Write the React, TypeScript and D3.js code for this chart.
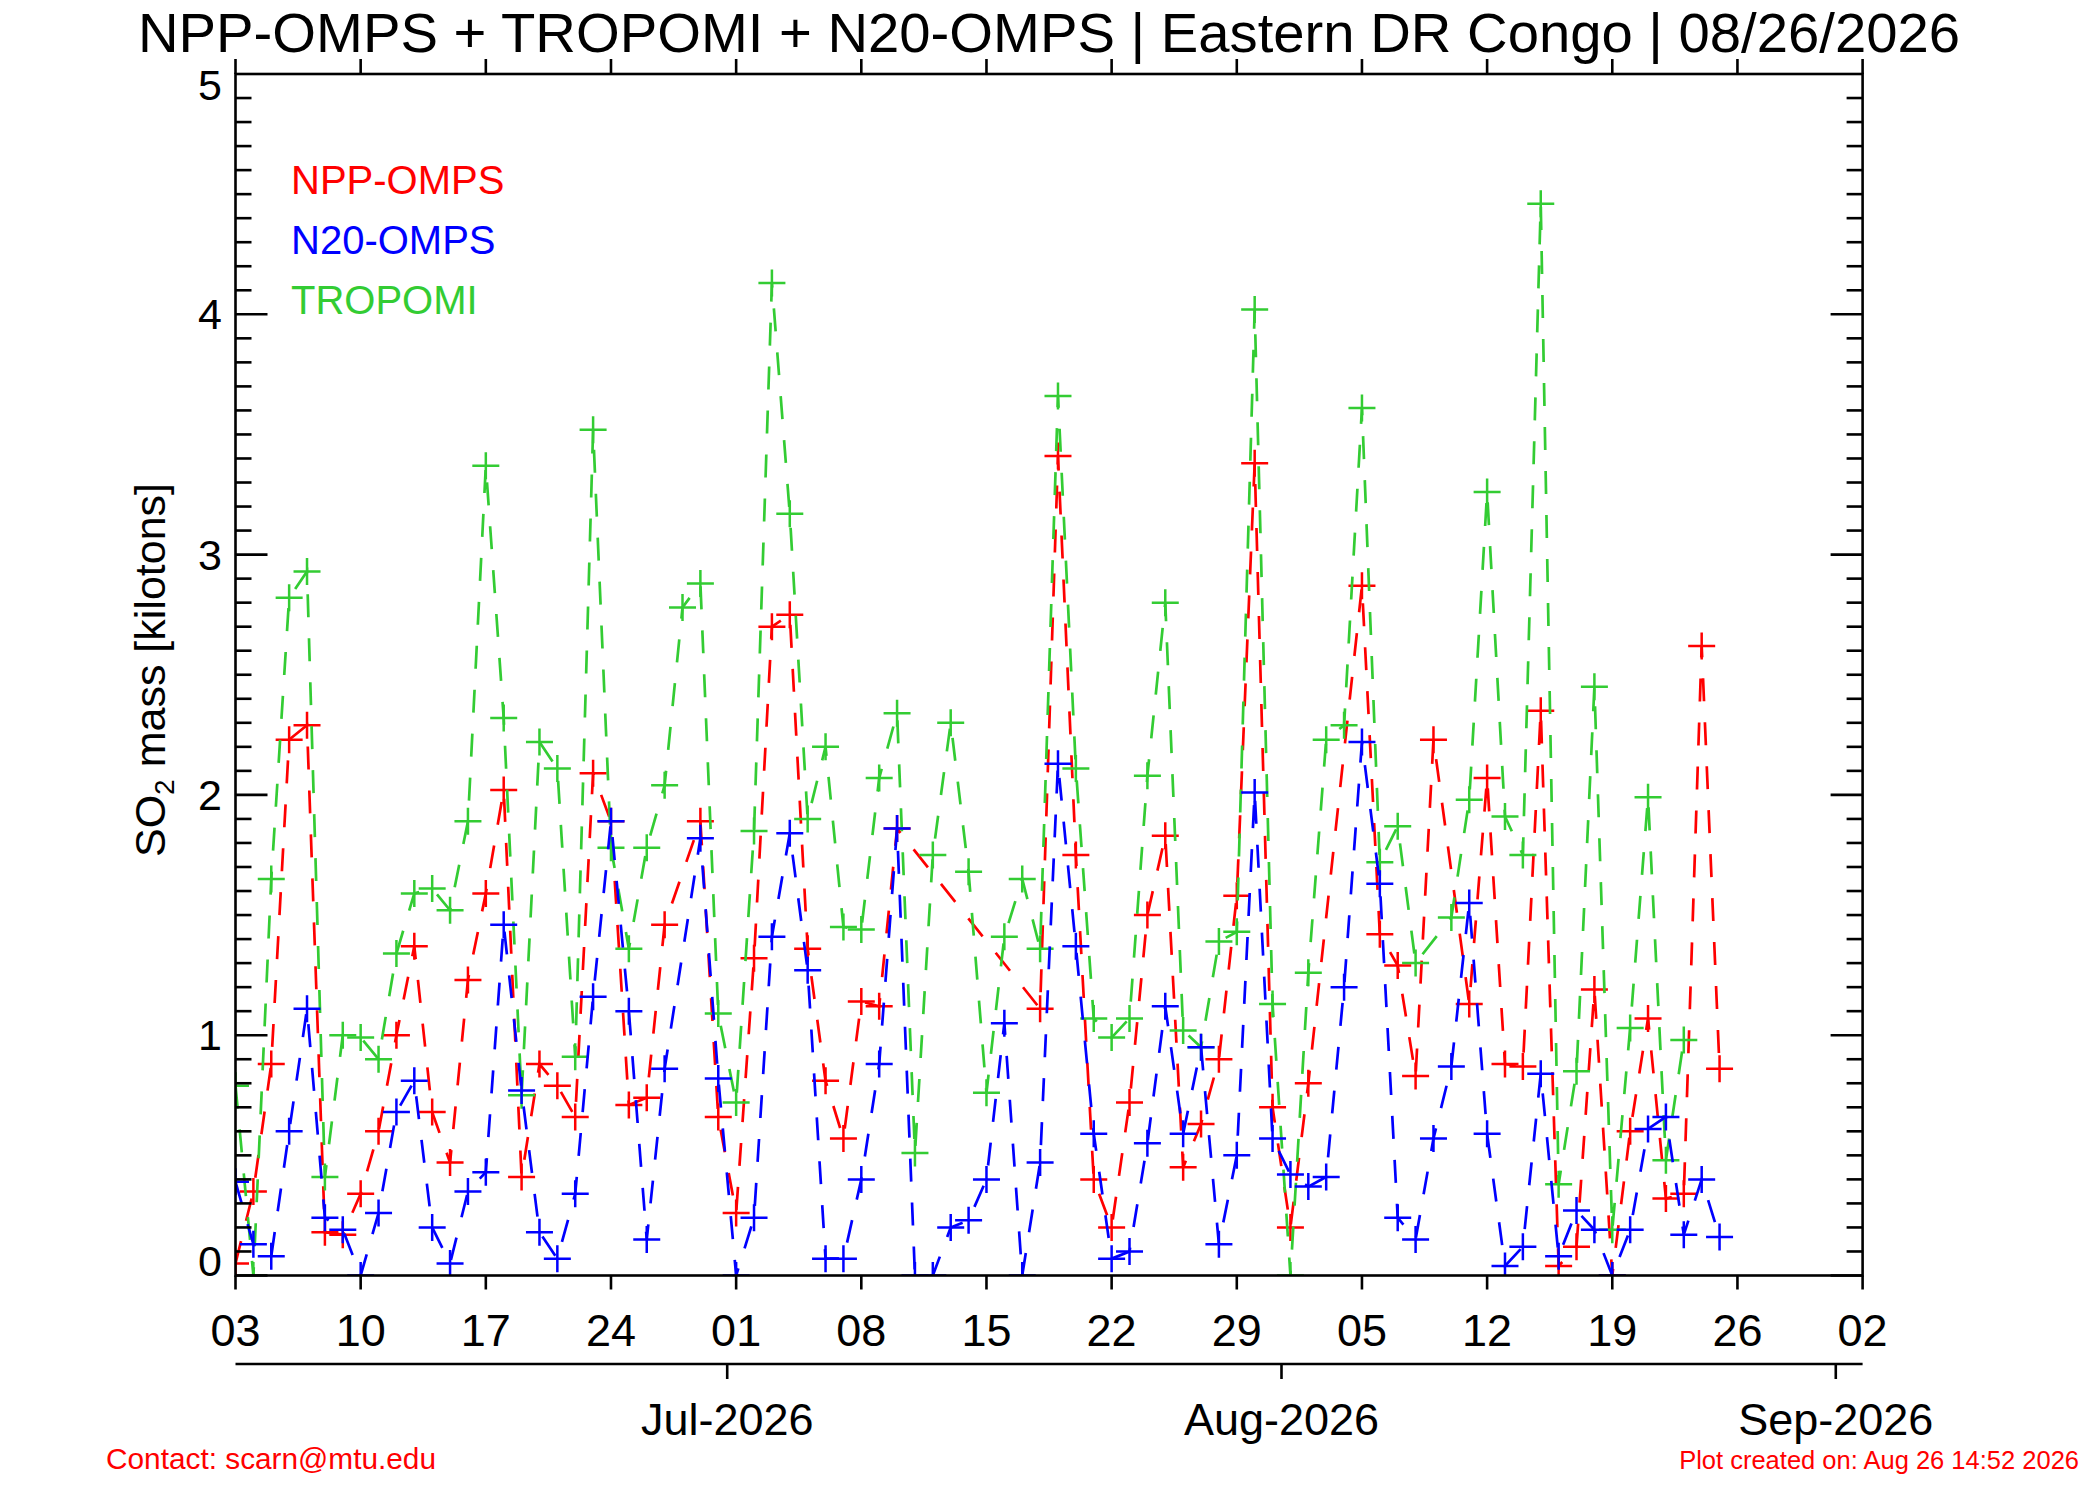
import * as d3 from "d3"

// daily values starting 03 Jun 2026, null = no retrieval that day
const startDay = new Date(2026, 5, 3)
const endDay = new Date(2026, 8, 2)

const nppOmps = [
  0.05, 0.35, 0.88, 2.23, 2.29, 0.18, 0.17, 0.34, 0.6, 1.0,
  1.37, 0.68, 0.47, 1.23, 1.59, 2.02, 0.41, 0.88, 0.79, 0.66,
  2.09, 1.89, 0.71, 0.74, 1.46, null, 1.89, 0.66, 0.26, 1.32,
  2.7, 2.75, 1.36, 0.81, 0.57, 1.14, 1.12, 1.86, null, null,
  null, null, null, null, null, 1.11, 3.41, 1.75, 0.4, 0.2,
  0.72, 1.5, 1.83, 0.45, 0.63, 0.9, 1.58, 3.38, 0.7, 0.2,
  0.8, null, null, 2.87, 1.42, 1.29, 0.83, 2.23, null, 1.13,
  2.07, 0.88, 0.87, 2.35, 0.04, 0.12, 1.19, 0.0, 0.6, 1.07,
  0.32, 0.34, 2.62, 0.86,
]

const tropomi = [
  0.79, 0.0, 1.65, 2.82, 2.93, 0.41, 1.0, 0.99, 0.9, 1.34,
  1.59, 1.61, 1.52, 1.89, 3.37, 2.32, 0.75, 2.22, 2.11, 0.91,
  3.52, 1.78, 1.36, 1.78, 2.04, 2.78, 2.88, 1.09, 0.72, 1.85,
  4.13, 3.17, 1.9, 2.2, 1.45, 1.44, 2.07, 2.34, 0.51, 1.75,
  2.3, 1.68, 0.76, 1.41, 1.65, 1.36, 3.66, 2.11, 1.07, 0.99,
  1.07, 2.08, 2.8, 1.02, 0.95, 1.39, 1.43, 4.02, 1.13, 0.0,
  1.26, 2.23, 2.29, 3.61, 1.72, 1.87, 1.3, null, 1.49, 1.98,
  3.26, 1.91, 1.75, 4.46, 0.38, 0.85, 2.45, 0.19, 1.03, 1.99,
  0.48, 0.98, null, null,
]

const n20Omps = [
  0.39, 0.13, 0.08, 0.6, 1.11, 0.24, 0.19, 0.0, 0.26, 0.68,
  0.81, 0.2, 0.05, 0.35, 0.43, 1.46, 0.77, 0.18, 0.07, 0.34,
  1.16, 1.89, 1.1, 0.15, 0.86, null, 1.82, 0.82, 0.0, 0.24,
  1.41, 1.84, 1.27, 0.07, 0.07, 0.4, 0.88, 1.86, 0.0, 0.0,
  0.2, 0.23, 0.4, 1.05, 0.0, 0.47, 2.13, 1.37, 0.59, 0.07,
  0.1, 0.55, 1.12, 0.59, 0.95, 0.13, 0.5, 2.01, 0.57, 0.42,
  0.37, 0.41, 1.2, 2.22, 1.63, 0.24, 0.15, 0.57, 0.87, 1.55,
  0.59, 0.04, 0.12, 0.84, 0.08, 0.27, 0.19, 0.0, 0.19, 0.61,
  0.66, 0.17, 0.4, 0.16,
]

const series = [
  { name: "NPP-OMPS", color: "#ff0000", values: nppOmps },
  { name: "TROPOMI", color: "#33cc33", values: tropomi },
  { name: "N20-OMPS", color: "#0000ff", values: n20Omps },
]
const legendOrder = ["NPP-OMPS", "N20-OMPS", "TROPOMI"]

const title = "NPP-OMPS + TROPOMI + N20-OMPS | Eastern DR Congo | 08/26/2026"
const contact = "Contact: scarn@mtu.edu"
const created = "Plot created on: Aug 26 14:52 2026"

const W = 2100
const H = 1500
const left = 235.5
const right = 1862.6
const top = 74
const bottom = 1275.5
const font = "'Liberation Sans', Arial, Helvetica, sans-serif"

export default function App() {
  const x = d3.scaleTime().domain([startDay, endDay]).range([left, right])
  const y = d3.scaleLinear().domain([0, 5]).range([bottom, top])

  const weekTicks = d3.timeWednesday.range(startDay, d3.timeDay.offset(endDay, 1))
  // month marks sit half a day before the 1st
  const monthTicks = d3
    .timeMonth.range(d3.timeDay.offset(startDay, 1), endDay)
    .map((d) => ({ at: d3.timeHour.offset(d, -12), label: d }))
  const dayFmt = d3.timeFormat("%d")
  const monFmt = d3.timeFormat("%b-%Y")
  const majorY = y.ticks(5)
  const minorY = d3.range(0, 50).map((i) => i / 10)

  const line = d3
    .line<{ date: Date; v: number }>()
    .x((d) => x(d.date))
    .y((d) => y(d.v))

  const pts = (vals: (number | null)[]) =>
    vals
      .map((v, i) => ({ date: d3.timeDay.offset(startDay, i), v }))
      .filter((d) => d.v != null) as { date: Date; v: number }[]

  const cross = 13.5
  const ax = { stroke: "#000", strokeWidth: 2.6 }

  return (
    <svg
      width={W}
      height={H}
      style={{ position: "absolute", left: 0, top: 0, background: "#fff" }}
      fontFamily={font}
    >
      <rect width={W} height={H} fill="#fff" />
      <defs>
        <clipPath id="plotclip">
          <rect x={left} y={top} width={right - left} height={bottom - top} />
        </clipPath>
      </defs>

      <text x={1049} y={52} fontSize={56} textAnchor="middle" textLength={1822} lengthAdjust="spacingAndGlyphs">
        {title}
      </text>

      {/* data */}
      <g clipPath="url(#plotclip)">
        {series.map((s) => {
          const p = pts(s.values)
          return (
            <g key={s.name}>
              <path d={line(p) ?? ""} fill="none" stroke={s.color} strokeWidth={2.7} strokeDasharray="23 21" />
              {p.map((d, i) => (
                <path
                  key={i}
                  d={`M${x(d.date) - cross},${y(d.v)}h${cross * 2}M${x(d.date)},${y(d.v) - cross}v${cross * 2}`}
                  stroke={s.color}
                  strokeWidth={2.5}
                />
              ))}
            </g>
          )
        })}
      </g>

      {/* box */}
      <rect x={left} y={top} width={right - left} height={bottom - top} fill="none" {...ax} />

      {/* y ticks, both sides, inward */}
      {minorY.map((v) => {
        const len = majorY.includes(v) ? 32 : 16
        return (
          <g key={v}>
            <line x1={left} x2={left + len} y1={y(v)} y2={y(v)} {...ax} />
            <line x1={right} x2={right - len} y1={y(v)} y2={y(v)} {...ax} />
          </g>
        )
      })}
      {majorY.map((v) => (
        <text
          key={v}
          x={222}
          y={v === 0 ? bottom : v === 5 ? y(v) + 26 : y(v) + 15}
          fontSize={43}
          textAnchor="end"
        >
          {v}
        </text>
      ))}

      {/* week ticks, top and bottom, outward */}
      {weekTicks.map((d) => (
        <g key={+d}>
          <line x1={x(d)} x2={x(d)} y1={bottom} y2={bottom + 14} {...ax} />
          <line x1={x(d)} x2={x(d)} y1={top} y2={top - 15} {...ax} />
          <text x={x(d)} y={1346} fontSize={45} textAnchor="middle">
            {dayFmt(d)}
          </text>
        </g>
      ))}

      {/* month axis */}
      <line x1={left} x2={right} y1={1364} y2={1364} {...ax} />
      {monthTicks.map((m) => (
        <g key={+m.at}>
          <line x1={x(m.at)} x2={x(m.at)} y1={1364} y2={1379} {...ax} />
          <text x={x(m.at)} y={1435} fontSize={45} textAnchor="middle">
            {monFmt(m.label)}
          </text>
        </g>
      ))}

      {/* y label */}
      <text transform="translate(165,670) rotate(-90)" fontSize={43} textAnchor="middle">
        SO
        <tspan dy={9} fontSize={28}>
          2
        </tspan>
        <tspan dy={-9}> mass [kilotons]</tspan>
      </text>

      {/* legend */}
      {legendOrder.map((n, i) => {
        const s = series.find((q) => q.name === n)!
        return (
          <text key={n} x={291} y={194 + i * 60} fontSize={40} fill={s.color}>
            {n}
          </text>
        )
      })}

      <text x={106} y={1469} fontSize={29} fill="#ff0000" textLength={330} lengthAdjust="spacingAndGlyphs">
        {contact}
      </text>
      <text x={2079} y={1469} fontSize={25.5} fill="#ff0000" textAnchor="end">
        {created}
      </text>
    </svg>
  )
}
